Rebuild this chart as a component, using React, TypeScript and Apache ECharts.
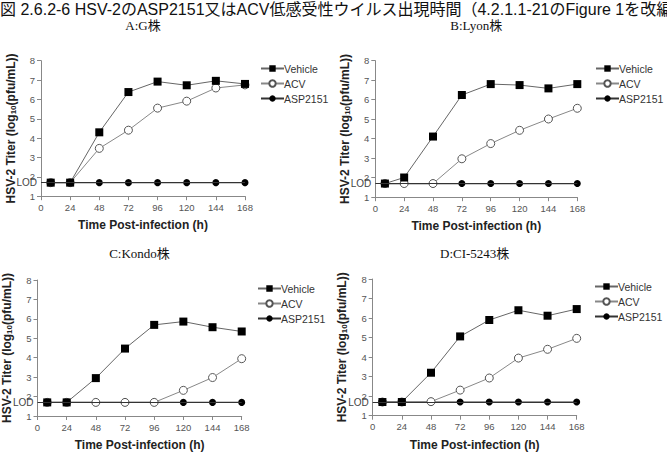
import React, { useEffect, useRef } from "react";
import * as echarts from "echarts";

const mainTitle = "図 2.6.2-6 HSV-2のASP2151又はACV低感受性ウイルス出現時間（4.2.1.1-21のFigure 1を改編）";
const panelTitles = ["A:G株", "B:Lyon株", "C:Kondo株", "D:CI-5243株"];
const hours = [8, 24, 48, 72, 96, 120, 144, 168];
const seriesNames = ["Vehicle", "ACV", "ASP2151"];
const lod = 1.7;
const xName = "Time Post-infection (h)";

// Panel A: G strain
const vehicleA = [1.7, 1.7, 4.3, 6.38, 6.92, 6.73, 6.96, 6.8];
const acvA = [1.7, 1.7, 3.47, 4.41, 5.55, 5.91, 6.59, 6.75];
const aspA = [1.7, 1.7, 1.7, 1.7, 1.7, 1.7, 1.7, 1.7];
// Panel B: Lyon strain
const vehicleB = [1.7, 2.01, 4.11, 6.24, 6.8, 6.75, 6.58, 6.8];
const acvB = [1.7, 1.7, 1.7, 2.97, 3.75, 4.43, 5.01, 5.56];
const aspB = [1.7, 1.7, 1.7, 1.7, 1.7, 1.7, 1.7, 1.7];
// Panel C: Kondo strain
const vehicleC = [1.7, 1.7, 2.95, 4.47, 5.69, 5.86, 5.57, 5.35];
const acvC = [1.7, 1.7, 1.7, 1.7, 1.7, 2.32, 2.98, 3.95];
const aspC = [1.7, 1.7, 1.7, 1.7, 1.7, 1.7, 1.7, 1.7];
// Panel D: CI-5243 strain
const vehicleD = [1.7, 1.7, 3.2, 5.06, 5.9, 6.4, 6.12, 6.46];
const acvD = [1.7, 1.7, 1.72, 2.31, 2.93, 3.95, 4.4, 4.96];
const aspD = [1.7, 1.7, 1.7, 1.7, 1.7, 1.7, 1.7, 1.7];

const panelData = [
  [vehicleA, acvA, aspA],
  [vehicleB, acvB, aspB],
  [vehicleC, acvC, aspC],
  [vehicleD, acvD, aspD],
];

const grids = [
  { left: 41, top: 60.7, width: 204, height: 135.5 },
  { left: 375.3, top: 60.7, width: 202, height: 136.5 },
  { left: 37.3, top: 280, width: 204.4, height: 137.3 },
  { left: 372.7, top: 279, width: 204, height: 136.7 },
];
const legendPos = [
  { left: 255, top: 58 },
  { left: 590, top: 58 },
  { left: 252, top: 278 },
  { left: 589, top: 276 },
];
const titleY = [25, 25, 253, 253];

const NARROW = '"Liberation Sans Narrow", "Liberation Sans", Arial, sans-serif';
const SANS = '"Liberation Sans", Arial, sans-serif';

export default function App() {
  const ref = useRef<HTMLDivElement>(null);
  useEffect(() => {
    if (!ref.current) return;
    const chart = echarts.init(ref.current, undefined, { renderer: "svg" });
    const xAxis: any[] = [];
    const yAxis: any[] = [];
    const series: any[] = [];
    const legend: any[] = [];
    const graphic: any[] = [
      {
        type: "text",
        left: 0,
        top: 1,
        style: {
          text: mainTitle,
          font: '16px "Liberation Sans", "Noto Sans CJK JP", sans-serif',
          fill: "#111",
        },
      },
    ];
    grids.forEach((g, i) => {
      xAxis.push({
        gridIndex: i,
        type: "value",
        min: 0,
        max: 168,
        interval: 24,
        name: xName,
        nameLocation: "middle",
        nameGap: 23,
        nameTextStyle: { fontFamily: NARROW, fontWeight: "bold", fontSize: 12, color: "#222" },
        axisLine: { lineStyle: { color: "#888" } },
        axisTick: { length: 4, lineStyle: { color: "#888" } },
        axisLabel: { fontFamily: NARROW, fontSize: 9.5, color: "#555", margin: 6 },
        splitLine: { show: false },
      });
      yAxis.push({
        gridIndex: i,
        type: "value",
        min: 1,
        max: 8,
        interval: 1,
        name: "{a|HSV-2 Titer (log}{s|10}{a|(pfu/mL))}",
        nameLocation: "middle",
        nameRotate: 90,
        nameGap: 24,
        nameTextStyle: {
          rich: {
            a: { fontFamily: SANS, fontWeight: "bold", fontSize: 12, color: "#222" },
            s: { fontFamily: SANS, fontWeight: "bold", fontSize: 8, color: "#222", verticalAlign: "bottom", padding: [5, 0, 0, 0] },
          },
        },
        axisLine: { show: true, lineStyle: { color: "#888" } },
        axisTick: { show: true, length: 4, lineStyle: { color: "#888" } },
        axisLabel: { fontFamily: NARROW, fontSize: 9.5, color: "#555", margin: 6 },
        splitLine: { show: false },
      });
      const [veh, acv, asp] = panelData[i];
      series.push({
        name: "ASP2151",
        type: "line",
        xAxisIndex: i,
        yAxisIndex: i,
        z: 2,
        data: hours.map((h, k) => [h, asp[k]]),
        symbol: "circle",
        symbolSize: 7,
        itemStyle: { color: "#000" },
        lineStyle: { color: "#333", width: 1.2 },
        markLine: {
          silent: true,
          symbol: "none",
          data: [{ yAxis: lod }],
          lineStyle: { color: "#333", width: 1.2, type: "solid" },
          label: {
            position: "start",
            formatter: "LOD",
            distance: 4,
            fontFamily: NARROW,
            fontSize: 10,
            color: "#444",
          },
        },
      });
      series.push({
        name: "ACV",
        type: "line",
        xAxisIndex: i,
        yAxisIndex: i,
        z: 3,
        data: hours.map((h, k) => [h, acv[k]]),
        symbol: "circle",
        symbolSize: 8,
        itemStyle: { color: "#fff", borderColor: "#555", borderWidth: 1 },
        lineStyle: { color: "#888", width: 1 },
      });
      series.push({
        name: "Vehicle",
        type: "line",
        xAxisIndex: i,
        yAxisIndex: i,
        z: 4,
        data: hours.map((h, k) => [h, veh[k]]),
        symbol: "rect",
        symbolSize: 8,
        itemStyle: { color: "#000" },
        lineStyle: { color: "#666", width: 1 },
      });
      legend.push({
        data: seriesNames,
        orient: "vertical",
        left: legendPos[i].left,
        top: legendPos[i].top,
        itemWidth: 23,
        itemHeight: 8,
        itemGap: 4,
        selectedMode: false,
        textStyle: { fontFamily: SANS, fontSize: 10.5, color: "#333", padding: [0, 0, 0, -5] },
      });
      graphic.push({
        type: "text",
        x: g.left + g.width / 2,
        y: titleY[i],
        style: {
          text: panelTitles[i],
          font: '13px "Liberation Serif", "Noto Sans CJK JP", serif',
          fill: "#111",
          textAlign: "center",
          textVerticalAlign: "middle",
        },
      });
    });
    chart.setOption({
      animation: false,
      backgroundColor: "#fff",
      grid: grids.map((g) => ({ ...g, containLabel: false })),
      xAxis,
      yAxis,
      series,
      legend,
      graphic,
    });
    return () => chart.dispose();
  }, []);
  return (
    <div
      ref={ref}
      style={{ position: "fixed", left: 0, top: 0, width: 667, height: 452 }}
    />
  );
}
